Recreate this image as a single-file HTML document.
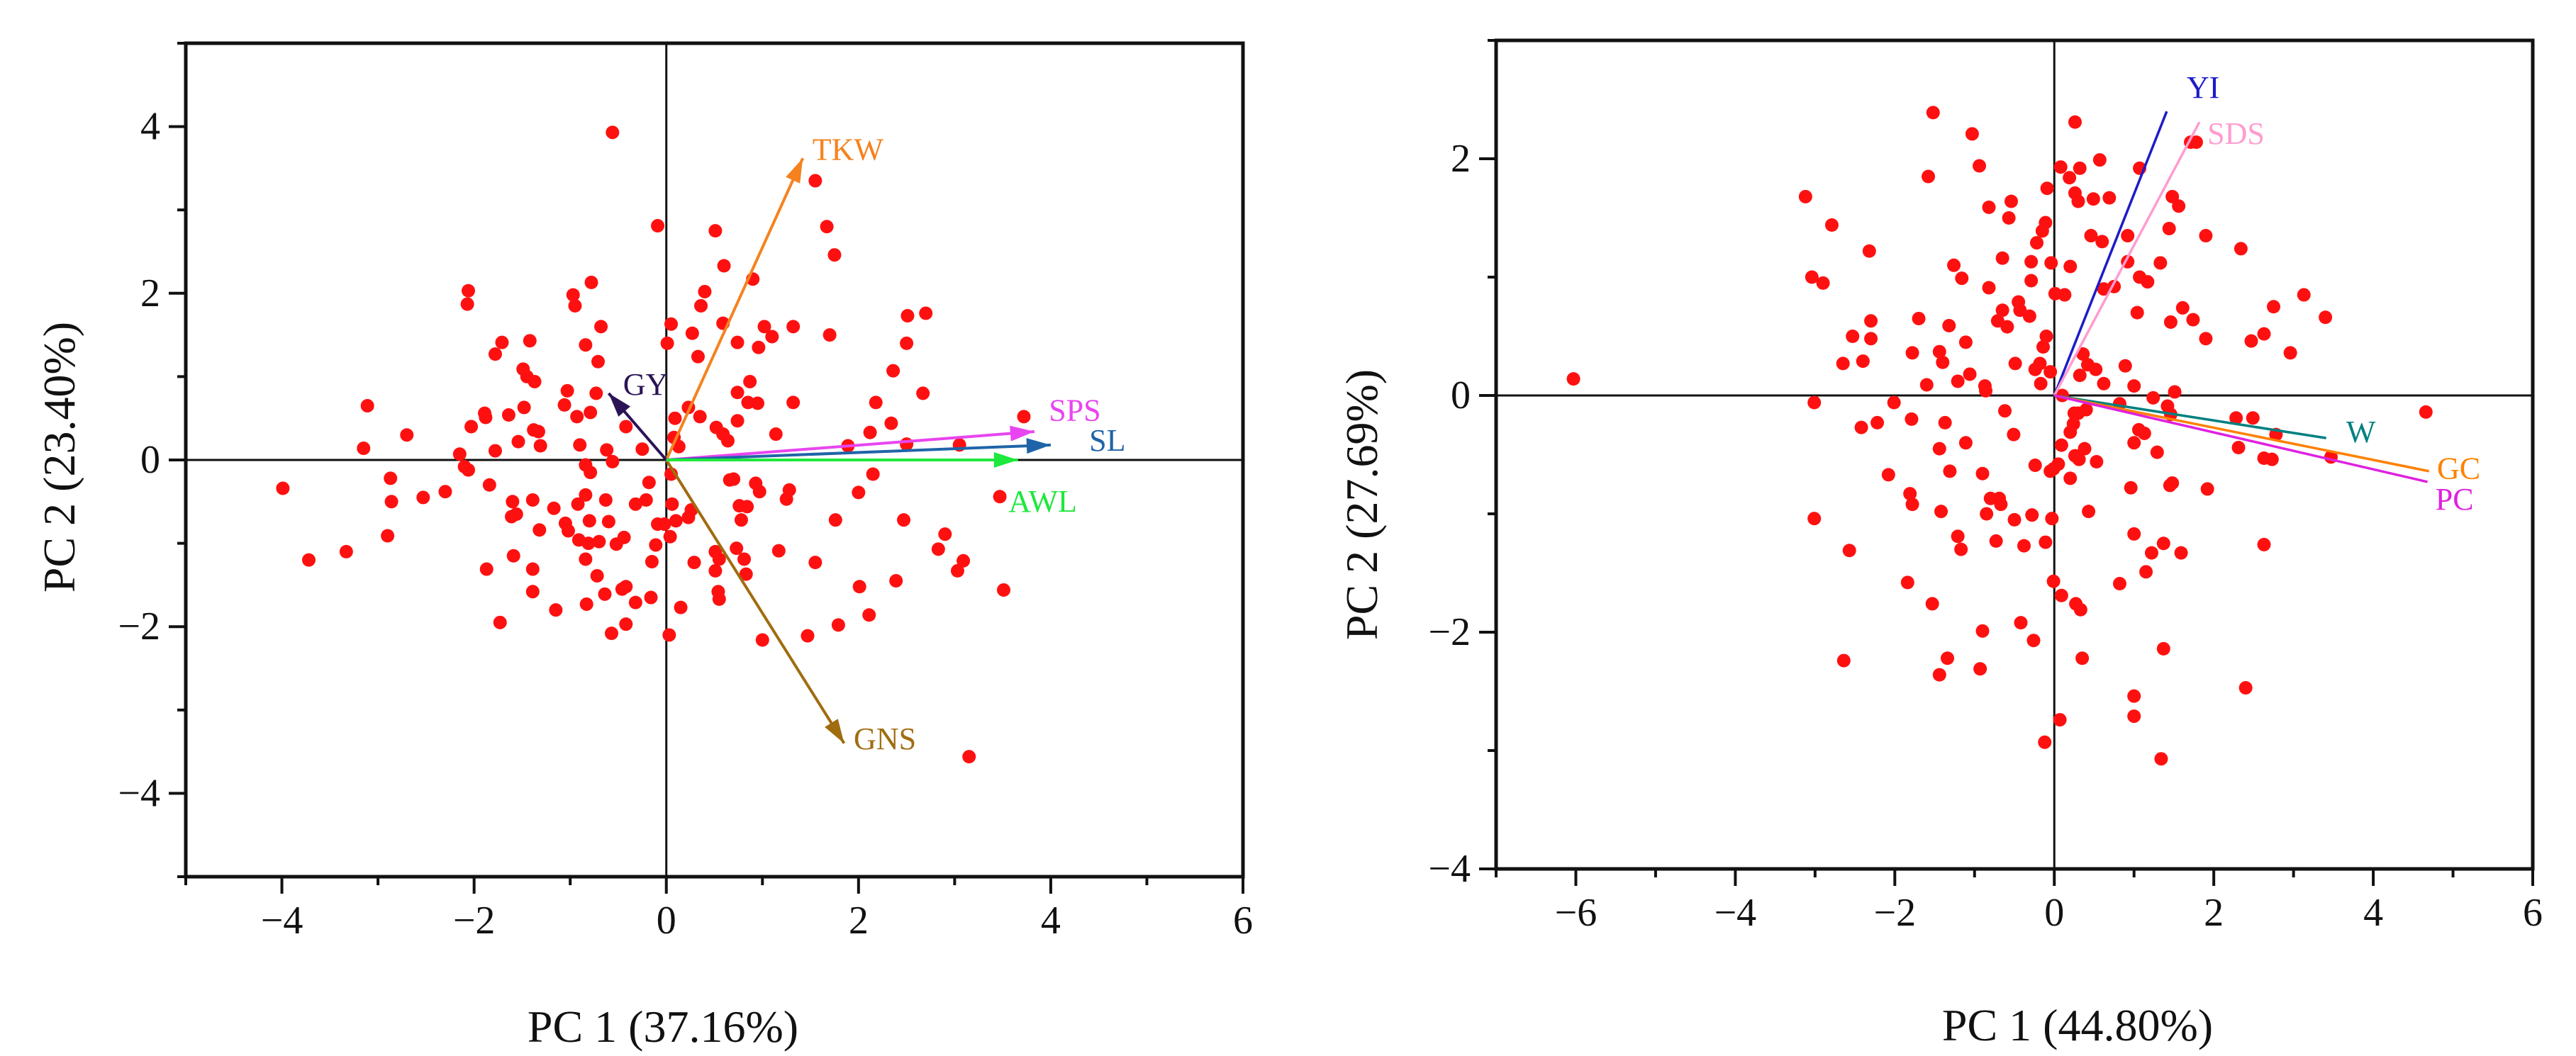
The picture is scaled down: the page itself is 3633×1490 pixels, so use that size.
<!DOCTYPE html>
<html><head><meta charset="utf-8"><style>
html,body{margin:0;padding:0;background:#fff;}
svg{display:block;font-family:"Liberation Serif",serif;}
</style></head><body>
<svg id="chart" width="3633" height="1490" viewBox="0 0 3633 1490"></svg>
<script>
// ---------- LEFT PLOT DATA ----------
const leftX = [-0.56,1.55,-0.09,1.67,1.75,0.51,0.6,0.9,-2.06,-2.07,-0.78,-0.97,-0.95,0.4,0.36,0.05,-0.68,0.59,0.27,1.02,1.1,1.32,1.7,2.51,2.7,2.5,0.74,0.96,0.01,-0.84,-0.71,0.33,-1.71,-1.42,-1.78,-1.49,-1.45,-1.37,0.87,0.74,2.36,-1.03,-0.73,2.67,0.85,0.95,1.32,2.18,-3.11,-1.89,-1.88,-1.64,-1.48,-1.06,-0.79,-0.93,-2.03,-0.42,-1.38,-1.33,0.09,0.23,0.35,0.52,0.59,0.74,1.14,2.12,2.34,3.72,-1.54,-1.31,-1.78,-0.9,-0.62,-0.25,-3.15,-2.7,0.08,0.13,0.64,1.89,2.5,3.05,-2.15,-2.1,-2.06,-0.84,-0.79,-0.56,-3.99,-2.87,-2.53,-2.3,-2.86,-1.84,-0.84,-0.63,-0.18,0.05,0.66,0.7,0.93,0.97,1.28,1.25,2.15,2.0,3.47,-1.6,-1.61,-1.56,-1.39,-1.17,-0.92,-0.8,-0.6,-0.32,-0.21,0.06,0.23,0.26,0.1,-0.09,-0.02,0.76,0.84,0.78,-1.05,-1.02,-1.32,-0.91,-0.81,-0.7,-0.52,-0.44,-0.11,0.04,-2.9,1.76,2.47,-3.72,-3.33,-1.59,-0.84,-0.15,0.29,0.51,0.55,0.81,0.73,1.17,1.55,2.83,2.9,3.09,3.03,-1.87,-1.39,-0.72,0.51,0.83,2.39,3.51,-1.39,-0.64,-0.46,-0.42,0.54,0.55,2.01,-1.15,-0.83,-0.32,-0.16,0.15,2.11,-1.73,-0.57,-0.42,0.03,1.0,1.47,1.79,3.15];
const leftY = [3.93,3.35,2.81,2.8,2.46,2.75,2.33,2.17,2.03,1.87,2.13,1.98,1.85,2.02,1.85,1.63,1.6,1.64,1.52,1.6,1.48,1.6,1.5,1.73,1.76,1.4,1.41,1.35,1.4,1.38,1.18,1.24,1.41,1.43,1.27,1.09,1.0,0.94,0.94,0.81,1.07,0.83,0.8,0.8,0.69,0.68,0.69,0.69,0.65,0.56,0.51,0.54,0.63,0.66,0.57,0.52,0.4,0.4,0.36,0.34,0.5,0.63,0.52,0.39,0.31,0.47,0.31,0.33,0.44,0.52,0.22,0.17,0.11,0.18,0.12,0.13,0.14,0.3,0.27,0.16,0.23,0.17,0.19,0.18,0.07,-0.08,-0.12,-0.06,-0.15,-0.02,-0.34,-0.22,-0.45,-0.38,-0.5,-0.3,-0.42,-0.48,-0.27,-0.17,-0.24,-0.23,-0.28,-0.38,-0.36,-0.47,-0.17,-0.39,-0.44,-0.5,-0.68,-0.65,-0.48,-0.58,-0.53,-0.73,-0.74,-0.53,-0.48,-0.53,-0.69,-0.6,-0.73,-0.77,-0.77,-0.55,-0.56,-0.72,-0.76,-0.85,-0.84,-0.96,-1.0,-0.98,-1.01,-0.93,-1.02,-0.92,-0.91,-0.72,-0.72,-1.2,-1.1,-1.15,-1.19,-1.22,-1.23,-1.1,-1.19,-1.19,-1.06,-1.09,-1.23,-1.07,-0.89,-1.21,-1.33,-1.31,-1.31,-1.39,-1.33,-1.37,-1.45,-1.56,-1.58,-1.61,-1.55,-1.52,-1.58,-1.67,-1.52,-1.8,-1.73,-1.71,-1.65,-1.77,-1.86,-1.95,-2.08,-1.97,-2.1,-2.16,-2.11,-1.98,-3.56];
const leftVarNames = ["TKW","GY","GNS","SPS","SL","AWL"];
const leftVarX = [1.42,-0.6,1.85,3.83,4.0,3.66];
const leftVarY = [3.62,0.8,-3.4,0.34,0.18,0.0];
const leftVarColors = ["#f5821f","#2b1456","#a06c10","#e845f0","#1f64a8","#1ee83c"];
const leftLabelDX = [0.1,0.15,0.1,0.15,0.4,-0.1];
const leftLabelDY = [0.1,0.1,0.05,0.25,0.05,-0.5];
const leftXTicks = [-4,-2,0,2,4,6];
const leftYTicks = [-4,-2,0,2,4];

// ---------- RIGHT PLOT DATA ----------
const rightX = [-6.03,-3.12,-2.79,-3.04,-2.9,-2.32,-2.3,-2.53,-2.3,-2.65,-2.4,-1.7,-1.32,-1.78,-1.44,-1.4,-1.6,-1.21,-1.06,-1.11,-0.87,-0.86,-1.52,-1.03,-1.58,-0.94,-0.82,-0.54,-0.57,-1.26,-1.16,-0.82,-0.65,-0.43,-0.65,-0.59,-0.71,-0.31,-0.45,-0.29,-0.29,-0.22,-0.15,-0.11,-0.04,0.01,-0.1,-0.14,-0.18,-0.24,-0.17,-0.05,-0.49,-0.09,0.08,0.19,0.32,0.26,0.3,0.57,0.49,0.69,0.26,0.46,0.6,0.2,0.92,1.07,1.48,1.56,1.44,1.33,1.07,1.17,0.92,0.62,0.75,1.71,1.78,1.9,2.34,1.04,1.61,1.74,1.46,1.9,2.47,2.63,2.75,3.13,3.4,2.96,0.36,0.42,0.52,0.32,0.62,0.89,1.0,1.51,1.24,1.42,0.1,0.25,0.3,0.24,0.2,0.4,1.06,1.13,1.0,1.29,1.46,2.28,2.49,2.31,2.78,2.63,2.73,3.47,4.66,0.09,0.05,-0.01,-0.05,0.26,0.31,0.38,0.53,0.2,0.96,1.48,1.45,1.92,0.43,-0.24,-0.03,-0.28,-0.11,-0.38,-0.5,-0.8,-0.69,-0.67,-0.85,-0.9,-0.73,-0.51,-0.62,-1.31,-1.44,-1.11,-1.37,-1.79,-2.01,-2.22,-2.42,-2.08,-1.81,-1.78,-1.42,-1.21,-1.17,-3.01,-3.01,-2.57,-1.84,-1.53,-0.01,0.09,0.27,0.33,-0.42,-0.9,-0.26,-2.64,-1.34,-1.44,-0.93,0.35,0.82,1.0,1.22,1.15,1.37,1.59,1.0,1.0,1.37,2.4,2.63,0.07,-0.12,1.34,0.13,0.82];
const rightY = [0.14,1.68,1.44,1.0,0.95,1.22,0.63,0.5,0.48,0.27,0.29,0.65,0.59,0.36,0.37,0.28,0.09,0.12,0.18,0.45,0.08,0.04,2.39,2.21,1.85,1.94,1.59,1.64,1.5,1.1,0.99,0.91,1.16,0.72,0.72,0.58,0.63,0.67,0.79,0.97,1.13,1.29,1.39,1.46,1.12,0.86,0.5,0.41,0.27,0.22,0.1,0.2,0.27,1.75,1.93,1.84,1.92,1.71,1.64,1.99,1.66,1.67,2.31,1.35,1.3,1.09,1.35,1.92,1.68,1.6,1.41,1.12,1.0,0.96,1.13,0.9,0.92,2.14,2.14,1.35,1.24,0.7,0.74,0.64,0.62,0.48,0.46,0.52,0.75,0.85,0.66,0.36,0.35,0.26,0.22,0.17,0.1,0.25,0.08,0.03,-0.02,-0.09,0.0,-0.15,-0.15,-0.24,-0.31,-0.12,-0.29,-0.32,-0.4,-0.48,-0.16,-0.19,-0.19,-0.44,-0.33,-0.53,-0.54,-0.52,-0.14,-0.42,-0.58,-0.62,-0.64,-0.51,-0.54,-0.45,-0.56,-0.7,-0.78,-0.74,-0.76,-0.79,-0.98,-0.59,-1.04,-1.01,-1.24,-1.27,-1.05,-0.87,-0.87,-0.92,-1.0,-0.66,-1.23,-0.33,-0.13,-0.64,-0.45,-0.4,-0.23,-0.2,-0.06,-0.23,-0.27,-0.67,-0.83,-0.92,-0.98,-1.19,-1.3,-0.06,-1.04,-1.31,-1.58,-1.76,-1.57,-1.69,-1.76,-1.81,-1.92,-1.99,-2.07,-2.24,-2.22,-2.36,-2.31,-2.22,-1.59,-1.17,-1.33,-1.49,-1.25,-1.33,-2.54,-2.71,-2.14,-2.47,-1.26,-2.74,-2.93,-3.07,0.85,-0.07];
const rightVarNames = ["YI","SDS","W","GC","PC"];
const rightVarX = [1.41,1.82,3.41,4.7,4.68];
const rightVarY = [2.4,2.31,-0.36,-0.64,-0.73];
const rightVarColors = ["#1c1cc8","#ff9ccf","#008080","#ff8000","#e020e0"];
const rightLabelDX = [0.25,0.1,0.25,0.1,0.1];
const rightLabelDY = [0.2,-0.1,0.05,0.02,-0.15];
const rightXTicks = [-6,-4,-2,0,2,4,6];
const rightYTicks = [-4,-2,0,2];

const NS = "http://www.w3.org/2000/svg";
const svg = document.getElementById("chart");
function mk(tag, attrs, parent){
  const e = document.createElementNS(NS, tag);
  for (const k in attrs) e.setAttribute(k, attrs[k]);
  (parent||svg).appendChild(e);
  return e;
}

function drawPlot(cfg){
  const g = mk("g", {});
  
  
  const sx = v => cfg.L + (v - cfg.xmin) / (cfg.xmax - cfg.xmin) * (cfg.R - cfg.L);
  const sy = v => cfg.B - (v - cfg.ymin) / (cfg.ymax - cfg.ymin) * (cfg.B - cfg.T);

  const zx = mk("line", {x1:sx(0), x2:sx(0), y1:cfg.T, y2:cfg.B, stroke:"#111", "stroke-width":3}, g);
  
  
  const zy = mk("line", {x1:cfg.L, x2:cfg.R, y1:sy(0), y2:sy(0), stroke:"#111", "stroke-width":3}, g);
  
  

  for (let i = 0; i < cfg.px.length; i++){
    const c = mk("circle", {cx:sx(cfg.px[i]), cy:sy(cfg.py[i]), r:9.5, fill:"#ff1010"}, g);
    
    
  }

  for (let i = 0; i < cfg.vn.length; i++){
    const x0 = sx(0), y0 = sy(0), x1 = sx(cfg.vx[i]), y1 = sy(cfg.vy[i]);
    const ln = mk("line", {x1:x0, y1:y0, x2:x1, y2:y1, stroke:cfg.vc[i], "stroke-width":cfg.arrow?4:3.5}, g);
    
    
    if (cfg.arrow){
      const ang = Math.atan2(y1 - y0, x1 - x0), len = 34, w = 11;
      const bx = x1 - len*Math.cos(ang), by = y1 - len*Math.sin(ang);
      const p = [x1+","+y1, (bx + w*Math.sin(ang))+","+(by - w*Math.cos(ang)), (bx - w*Math.sin(ang))+","+(by + w*Math.cos(ang))].join(" ");
      const ah = mk("polygon", {points:p, fill:cfg.vc[i]}, g);
      
      
    }
    const t = mk("text", {x:sx(cfg.vx[i] + cfg.ldx[i]), y:sy(cfg.vy[i] + cfg.ldy[i]) + 14, fill:cfg.vc[i], "font-size":44}, g);
    t.textContent = cfg.vn[i];
    
    
  }

  const fr = mk("rect", {x:cfg.L, y:cfg.T, width:cfg.R-cfg.L, height:cfg.B-cfg.T, fill:"none", stroke:"#111", "stroke-width":5}, g);
  
  

  for (let v = Math.ceil(cfg.xmin); v <= cfg.xmax; v++){
    const major = cfg.xt.indexOf(v) >= 0;
    const tk = mk("line", {x1:sx(v), x2:sx(v), y1:cfg.B, y2:cfg.B + (major?24:12), stroke:"#111", "stroke-width":4}, g);
    
    
  }
  cfg.xt.forEach(v => {
    const t = mk("text", {x:sx(v), y:cfg.B + 80, "text-anchor":"middle", "font-size":56, fill:"#111"}, g);
    t.textContent = v < 0 ? "\u2212" + (-v) : String(v);
    
    
  });
  for (let v = Math.ceil(cfg.ymin); v <= cfg.ymax; v++){
    const major = cfg.yt.indexOf(v) >= 0;
    const tk = mk("line", {x1:cfg.L - (major?24:12), x2:cfg.L, y1:sy(v), y2:sy(v), stroke:"#111", "stroke-width":4}, g);
    
    
  }
  cfg.yt.forEach(v => {
    const t = mk("text", {x:cfg.L - 36, y:sy(v) + 18, "text-anchor":"end", "font-size":56, fill:"#111"}, g);
    t.textContent = v < 0 ? "\u2212" + (-v) : String(v);
    
    
  });

  const xtl = mk("text", {x:cfg.xtx, y:cfg.xty, "text-anchor":"middle", "font-size":64, fill:"#111"}, g);
  xtl.textContent = cfg.xtitle;
  
  
  const ytl = mk("text", {x:0, y:0, "text-anchor":"middle", "font-size":64, fill:"#111", transform:"translate("+cfg.ytx+","+cfg.yty+") rotate(-90)"}, g);
  ytl.textContent = cfg.ytitle;
  
  
}

drawPlot({name:"left-biplot", L:262, R:1753, T:61, B:1237, xmin:-5, xmax:6, ymin:-5, ymax:5,
  px:leftX, py:leftY, vn:leftVarNames, vx:leftVarX, vy:leftVarY, vc:leftVarColors, ldx:leftLabelDX, ldy:leftLabelDY,
  xt:leftXTicks, yt:leftYTicks, arrow:true, xtitle:"PC 1 (37.16%)", xtx:935, xty:1470, ytitle:"PC 2 (23.40%)", ytx:105, yty:645});

drawPlot({name:"right-biplot", L:2110, R:3572, T:57, B:1226, xmin:-7, xmax:6, ymin:-4, ymax:3,
  px:rightX, py:rightY, vn:rightVarNames, vx:rightVarX, vy:rightVarY, vc:rightVarColors, ldx:rightLabelDX, ldy:rightLabelDY,
  xt:rightXTicks, yt:rightYTicks, arrow:false, xtitle:"PC 1 (44.80%)", xtx:2930, xty:1468, ytitle:"PC 2 (27.69%)", ytx:1942, yty:712});
</script>
</body></html>
